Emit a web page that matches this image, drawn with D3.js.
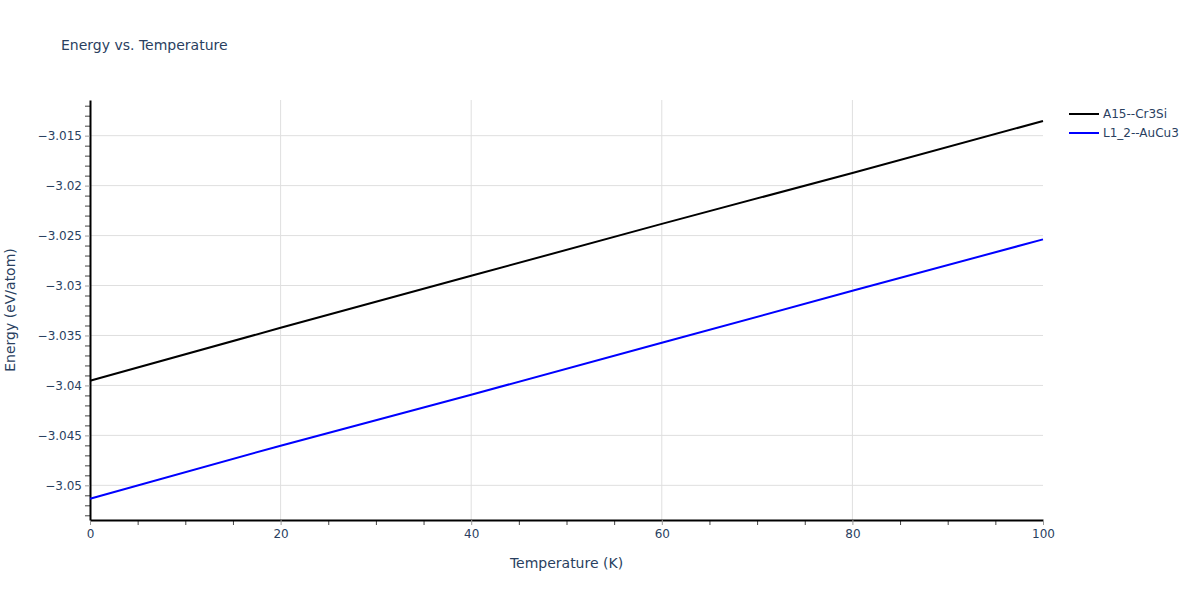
<!DOCTYPE html>
<meta charset="utf-8">
<script src="https://d3js.org/d3.v7.min.js"></script>
<style>
  body { margin: 0; background: #fff; }
  text { font-family: "DejaVu Sans", verdana, arial, sans-serif; fill: #2a3f5f; }
</style>
<div id="my_dataviz"></div>
<script>

// data
var temperature = [0, 20, 40, 60, 80, 100];
var energyA15 = [-3.03953, -3.03423, -3.02903, -3.02383, -3.01873, -3.01353];
var energyL12 = [-3.05134, -3.04603, -3.04093, -3.03573, -3.03053, -3.02538];
var seriesNames = ["A15--Cr3Si", "L1_2--AuCu3"];
var seriesColors = ["#000000", "#0000ff"];
var xTicks = [0, 20, 40, 60, 80, 100];
var yTicks = [-3.05, -3.045, -3.04, -3.035, -3.03, -3.025, -3.02, -3.015];

var margin = {top: 100, right: 157, bottom: 80, left: 90},
    width = 1200 - margin.left - margin.right,
    height = 600 - margin.top - margin.bottom;

var svg = d3.select("#my_dataviz")
  .append("svg")
    .attr("width", 1200)
    .attr("height", 600);

var g = svg.append("g")
    .attr("transform", "translate(" + margin.left + "," + margin.top + ")");

var x = d3.scaleLinear().domain([0, 100]).range([0, width]);
var y = d3.scaleLinear().domain([-3.05347, -3.01143]).range([height, 0]);

var fmt = function(d) { return d3.format("")(+d.toFixed(3)).replace("-", "\u2212"); };

// grid
g.append("g").selectAll("line").data(xTicks.filter(function(d) { return d > 0 && d < 100; }))
  .enter().append("line")
    .attr("x1", function(d) { return x(d); }).attr("x2", function(d) { return x(d); })
    .attr("y1", 0).attr("y2", height)
    .attr("stroke", "#dfdfdf");
g.append("g").selectAll("line").data(yTicks)
  .enter().append("line")
    .attr("x1", 0).attr("x2", width)
    .attr("y1", function(d) { return y(d); }).attr("y2", function(d) { return y(d); })
    .attr("stroke", "#dfdfdf");

// minor ticks
var xMinor = d3.range(0, 101, 5).filter(function(d) { return d % 20 !== 0; });
g.append("g").attr("transform", "translate(0," + height + ")")
  .call(d3.axisBottom(x).tickValues(xMinor).tickSize(5).tickFormat(""))
  .call(function(s) { s.select(".domain").remove(); s.selectAll("line").attr("stroke", "#444"); });
var yMinor = d3.range(-3.053, -3.0114, 0.001).filter(function(d) {
  return Math.abs(Math.round(d * 200) - d * 200) > 0.01; });
g.append("g")
  .call(d3.axisLeft(y).tickValues(yMinor).tickSize(5).tickFormat(""))
  .call(function(s) { s.select(".domain").remove(); s.selectAll("line").attr("stroke", "#444"); });

// major axes
var xAxis = g.append("g").attr("transform", "translate(0," + height + ")")
  .call(d3.axisBottom(x).tickValues(xTicks).tickSize(5).tickPadding(4).tickSizeOuter(0));
var yAxis = g.append("g")
  .call(d3.axisLeft(y).tickValues(yTicks).tickSize(5).tickPadding(3).tickSizeOuter(0).tickFormat(fmt));
[xAxis, yAxis].forEach(function(a) {
  a.select(".domain").attr("stroke", "#000").attr("stroke-width", 2);
  a.selectAll(".tick line").attr("stroke", "#999");
  a.selectAll(".tick text").style("font-size", "12px").attr("fill", "#2a3f5f");
});

// lines
var line = d3.line()
  .x(function(d, i) { return x(temperature[i]); })
  .y(function(d) { return y(d); });
[energyA15, energyL12].forEach(function(s, i) {
  g.append("path")
    .datum(s)
    .attr("fill", "none")
    .attr("stroke", seriesColors[i])
    .attr("stroke-width", 2)
    .attr("d", line);
});

// titles
svg.append("text").attr("x", 61).attr("y", 50)
  .style("font-size", "14px").text("Energy vs. Temperature");
svg.append("text").attr("x", margin.left + width / 2).attr("y", 568)
  .attr("text-anchor", "middle").style("font-size", "14px").text("Temperature (K)");
svg.append("text")
  .attr("transform", "translate(15," + (margin.top + height / 2) + ") rotate(-90)")
  .attr("text-anchor", "middle").style("font-size", "14px").text("Energy (eV/atom)");

// legend
var legend = svg.append("g").attr("transform", "translate(1069,114)");
seriesNames.forEach(function(n, i) {
  legend.append("line")
    .attr("x1", 0).attr("x2", 30).attr("y1", i * 19).attr("y2", i * 19)
    .attr("stroke", seriesColors[i]).attr("stroke-width", 2);
  legend.append("text")
    .attr("x", 34).attr("y", i * 19 + 4)
    .style("font-size", "12px").text(n);
});

</script>
